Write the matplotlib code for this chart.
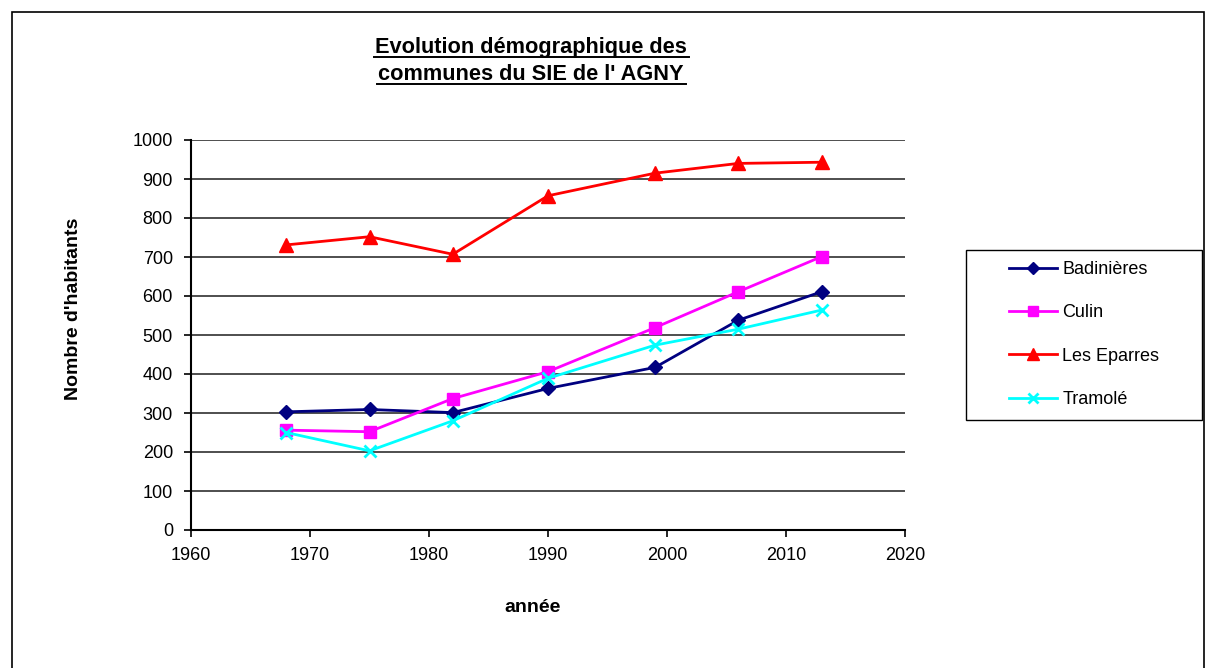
import matplotlib.pyplot as plt
from matplotlib.patches import Rectangle

plt.rcParams['font.family'] = ['Liberation Sans', 'DejaVu Sans']

years = [1968, 1975, 1982, 1990, 1999, 2006, 2013]
badinieres = [303, 309, 301, 363, 417, 538, 611]
culin = [256, 252, 337, 406, 519, 611, 701]
eparres = [731, 752, 707, 857, 915, 940, 943]
tramole = [250, 203, 280, 389, 474, 515, 564]

fig = plt.figure(figsize=(12.06, 6.68), dpi=100)
W, H = 1206, 668

# outer chart frame
fig.patches.append(Rectangle((12 / W, -0.05), (1204 - 12) / W, 1.05 - 12 / H,
                             transform=fig.transFigure, fill=False,
                             edgecolor='black', linewidth=1.2))

ax = fig.add_axes([191 / W, (H - 530) / H, (905 - 191) / W, (530 - 140) / H])

ax.plot(years, badinieres, color='#000080', marker='D', markersize=7, lw=2, label='Badinières')
ax.plot(years, culin, color='#FF00FF', marker='s', markersize=9, lw=2, label='Culin')
ax.plot(years, eparres, color='#FF0000', marker='^', markersize=10, lw=2, label='Les Eparres')
ax.plot(years, tramole, color='#00FFFF', marker='x', markersize=9, mew=2, lw=2, label='Tramolé')

ax.set_xlim(1960, 2020)
ax.set_ylim(0, 1000)
ax.set_xticks(range(1960, 2021, 10))
ax.set_yticks(range(0, 1001, 100))
ax.tick_params(labelsize=13, direction='out', length=5, width=1.2)
ax.tick_params(axis='x', pad=7)
ax.tick_params(axis='y', pad=8)
ax.yaxis.grid(True, color='#404040', lw=1.3)
ax.set_axisbelow(True)
ax.spines['right'].set_visible(False)
ax.spines['top'].set_visible(False)
ax.spines['left'].set_linewidth(1.5)
ax.spines['bottom'].set_linewidth(1.5)

# axis titles
fig.text(533 / W, 1 - 612 / H, 'année', ha='center', va='baseline',
         fontsize=14, fontweight='bold')
fig.text(74 / W, 1 - 309 / H, "Nombre d'habitants", ha='center', va='center',
         rotation=90, fontsize=14, fontweight='bold')

# underlined title
fig.text(531 / W, 1 - 53 / H, 'Evolution démographique des', ha='center', va='baseline',
         fontsize=15.7, fontweight='bold')
fig.text(531 / W, 1 - 80 / H, "communes du SIE de l' AGNY", ha='center', va='baseline',
         fontsize=15.7, fontweight='bold')
fig.add_artist(plt.Line2D([374 / W, 689 / W], [1 - 56.5 / H] * 2, color='black', lw=1.4))
fig.add_artist(plt.Line2D([377 / W, 686 / W], [1 - 83.5 / H] * 2, color='black', lw=1.4))

# legend, with its own frame
fig.patches.append(Rectangle((966 / W, 1 - 420 / H), (1202 - 966) / W, (420 - 250) / H,
                             transform=fig.transFigure, fill=False,
                             edgecolor='black', linewidth=1.0))
leg = fig.legend(loc='upper left', bbox_to_anchor=(1009 / W, 1 - 261 / H), fontsize=13,
                 frameon=False, handlelength=2.65, labelspacing=1.46, borderpad=0,
                 handletextpad=0.3, borderaxespad=0, markerscale=0.85)

fig.savefig('out.png', dpi=100)
